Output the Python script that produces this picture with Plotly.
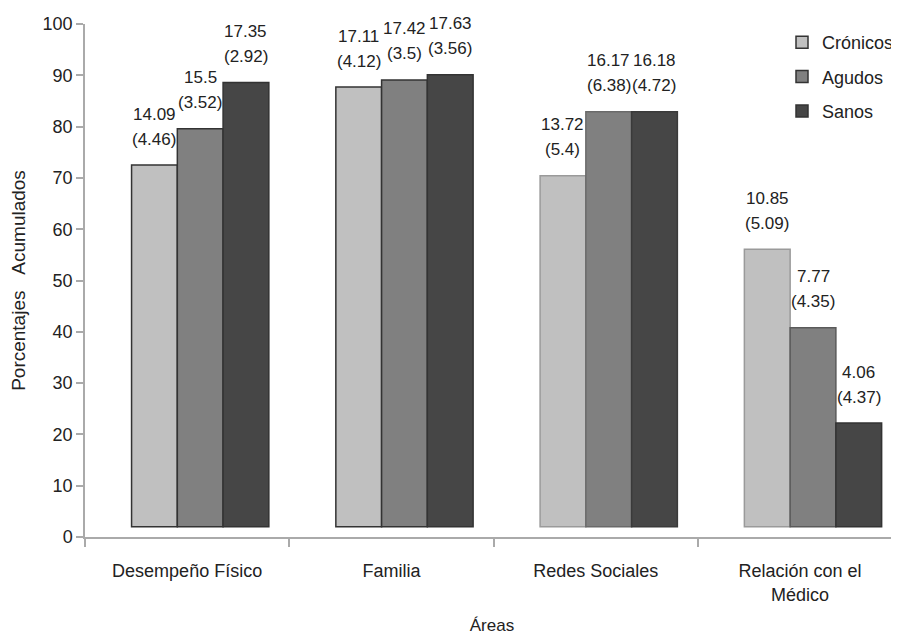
import plotly.graph_objects as go

categories = ["Desempeño Físico", "Familia", "Redes Sociales", "Relación con el<br>Médico"]
series_names = ["Crónicos", "Agudos", "Sanos"]
cronicos = [72.5, 87.7, 70.4, 56.1]
agudos = [79.6, 89.1, 82.9, 40.8]
sanos = [88.6, 90.1, 82.9, 22.2]
base_value = 2
mean_labels = {
    "Crónicos": ["14.09", "17.11", "13.72", "10.85"],
    "Agudos": ["15.5", "17.42", "16.17", "7.77"],
    "Sanos": ["17.35", "17.63", "16.18", "4.06"],
}
sd_labels = {
    "Crónicos": ["(4.46)", "(4.12)", "(5.4)", "(5.09)"],
    "Agudos": ["(3.52)", "(3.5)", "(6.38)", "(4.35)"],
    "Sanos": ["(2.92)", "(3.56)", "(4.72)", "(4.37)"],
}

values = {"Crónicos": cronicos, "Agudos": agudos, "Sanos": sanos}
colors = {"Crónicos": "#c0c0c0", "Agudos": "#808080", "Sanos": "#464646"}
line_colors = {
    "Crónicos": ["#333333", "#333333", "#9a9a9a", "#9a9a9a"],
    "Agudos": ["#333333", "#333333", "#6a6a6a", "#5a5a5a"],
    "Sanos": ["#333333", "#333333", "#3a3a3a", "#333333"],
}
bar_w = 0.224
offsets = {"Crónicos": -0.272, "Agudos": -0.048, "Sanos": 0.176}

font_family = "Liberation Sans, Arial, Helvetica, sans-serif"

fig = go.Figure()
for name in series_names:
    tops = values[name]
    fig.add_trace(go.Bar(
        name=name,
        x=categories,
        y=[t - base_value for t in tops],
        base=base_value,
        width=bar_w,
        offset=offsets[name],
        marker=dict(color=colors[name], line=dict(color=line_colors[name], width=1.5)),
        legendgroup=name,
    ))

annotations = []
for name in series_names:
    for i, top in enumerate(values[name]):
        xc = i + offsets[name] + bar_w / 2
        annotations.append(dict(x=xc, y=top, xref="x", yref="y", text=mean_labels[name][i],
                                showarrow=False, yanchor="middle", yshift=51,
                                font=dict(size=17, color="#222222", family=font_family)))
        annotations.append(dict(x=xc, y=top, xref="x", yref="y", text=sd_labels[name][i],
                                showarrow=False, yanchor="middle", yshift=26,
                                font=dict(size=17, color="#222222", family=font_family)))

fig.update_layout(
    width=891, height=627,
    margin=dict(l=77, r=0, t=16, b=98),
    paper_bgcolor="white", plot_bgcolor="white",
    font=dict(family=font_family, size=18, color="#222222"),
    barmode="group",
    showlegend=True,
    legend=dict(x=1.0, y=1.0, xanchor="right", yanchor="top",
                font=dict(size=18, color="#222222"), tracegroupgap=8,
                bgcolor="rgba(0,0,0,0)", itemwidth=30),
    annotations=annotations,
    xaxis=dict(
        type="category", range=[-0.5, 3.485], tickson="boundaries",
        showline=True, linecolor="#aaaaaa", linewidth=1.5,
        ticks="outside", ticklen=8, tickcolor="#aaaaaa", tickwidth=1.5,
        ticklabelstandoff=17, automargin=False,
        showgrid=False, zeroline=False,
        title=dict(text="Áreas", font=dict(size=17), standoff=17),
        tickfont=dict(size=18),
    ),
    yaxis=dict(
        range=[0, 100], tickvals=list(range(0, 101, 10)),
        showline=True, linecolor="#aaaaaa", linewidth=1.5,
        ticks="outside", ticklen=7, tickcolor="#aaaaaa", tickwidth=1.5,
        automargin=False,
        showgrid=False, zeroline=False,
        title=dict(text="Porcentajes\u00a0\u00a0\u00a0Acumulados", font=dict(size=19), standoff=14),
        tickfont=dict(size=18),
    ),
)

fig.write_html("out.html")
